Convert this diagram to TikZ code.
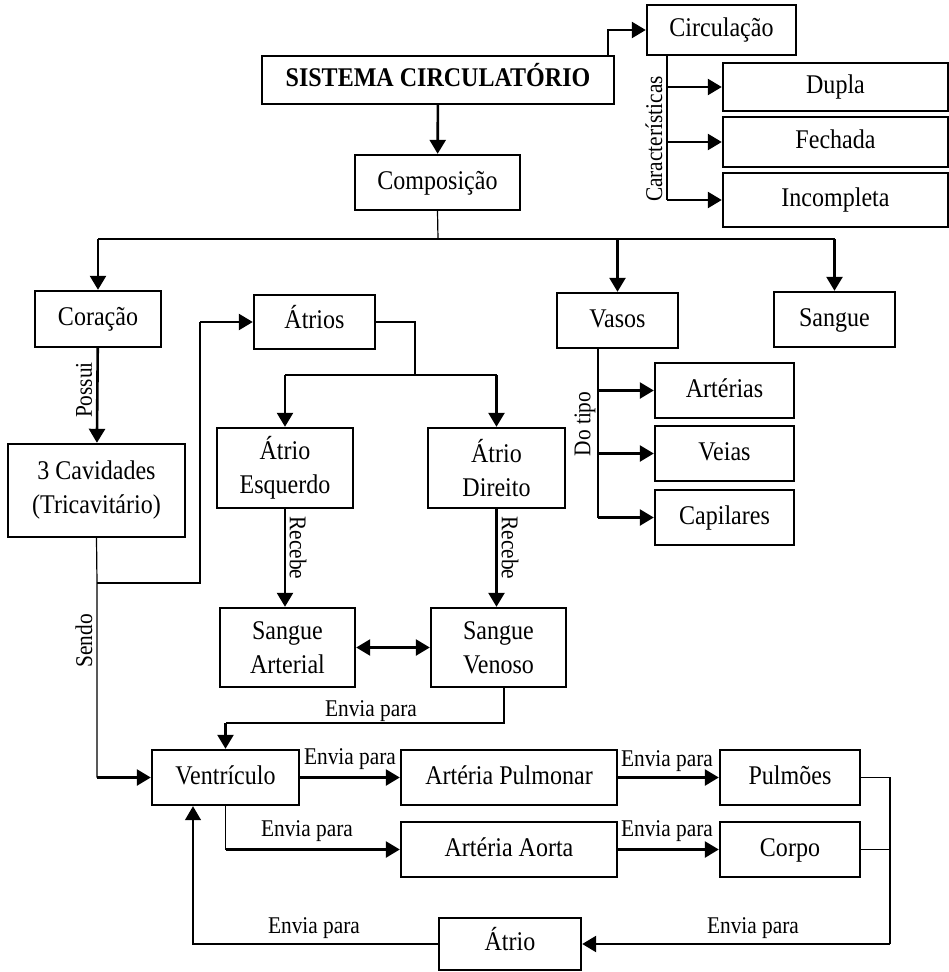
\documentclass[tikz,border=0pt]{standalone}
\usepackage{fontspec}
\setmainfont{Liberation Serif}[FakeStretch=0.89]
\usetikzlibrary{arrows.meta,calc}
\tikzstyle{box}=[rectangle, draw=black, line width=2.4pt, inner sep=2pt, align=center, text height=19pt, text depth=6pt, font=\fontsize{27}{34}\selectfont]
\tikzstyle{box2}=[box, text height=, text depth=]
\tikzstyle{annot}=[inner sep=1pt, font=\fontsize{24}{26}\selectfont]
\tikzstyle{conn}=[line width=1.2pt]
\tikzstyle{arr}=[line width=2.6pt, -{Triangle[length=14pt,width=16pt]}]
\tikzstyle{tarr}=[line width=1.3pt, -{Triangle[length=14pt,width=16pt]}]
\tikzstyle{darr}=[line width=2.6pt, {Triangle[length=14pt,width=16pt]}-{Triangle[length=14pt,width=16pt]}]

\begin{document}
\begin{tikzpicture}[x=1pt,y=-1pt]
	\useasboundingbox (0,0) rectangle (949,972);

	% top part
	\node[box, minimum width=352pt, minimum height=48pt, font=\bfseries\fontsize{27}{34}\selectfont](sistema) at (438,80){SISTEMA CIRCULATÓRIO};
	\node[box, minimum width=149pt, minimum height=50pt](circulacao) at (721.5,30){Circulação};
	\node[box, minimum width=225pt, minimum height=48pt](dupla) at (835.5,87){Dupla};
	\node[box, minimum width=225pt, minimum height=50pt](fechada) at (835.5,142){Fechada};
	\node[box, minimum width=225pt, minimum height=54pt](incompleta) at (835.5,200){Incompleta};
	\node[box, minimum width=165pt, minimum height=55pt](composicao) at (437.5,182.5){Composição};

	% second row
	\node[box, minimum width=126pt, minimum height=56pt](coracao) at (98,319){Coração};
	\node[box, minimum width=121pt, minimum height=54pt](atrios) at (314.5,322){Átrios};
	\node[box, minimum width=121pt, minimum height=55pt](vasos) at (617.5,320.5){Vasos};
	\node[box, minimum width=121pt, minimum height=55pt](sangue) at (834.5,319.5){Sangue};
	\node[box, minimum width=139pt, minimum height=55pt](arterias) at (724.5,390.5){Artérias};
	\node[box, minimum width=139pt, minimum height=55pt](veias) at (724.5,453.5){Veias};
	\node[box, minimum width=139pt, minimum height=55pt](capilares) at (724.5,517.5){Capilares};
	\node[box2, minimum width=177pt, minimum height=93pt](cavidades) at (96.5,490.5){3 Cavidades\\(Tricavitário)};
	\node[box2, minimum width=136pt, minimum height=80pt](esquerdo) at (285,468){Átrio\\Esquerdo};
	\node[box2, minimum width=137pt, minimum height=80pt](direito) at (496.5,468){Átrio\\Direito};
	\node[box2, minimum width=135pt, minimum height=79pt](arterial) at (287.5,647.5){Sangue\\Arterial};
	\node[box2, minimum width=135pt, minimum height=79pt](venoso) at (498.5,647.5){Sangue\\Venoso};

	% bottom part
	\node[box, minimum width=147pt, minimum height=55pt](ventriculo) at (225.5,777.5){Ventrículo};
	\node[box, minimum width=216pt, minimum height=55pt](pulmonar) at (509,777.5){Artéria Pulmonar};
	\node[box, minimum width=140pt, minimum height=55pt](pulmoes) at (790,777.5){Pulmões};
	\node[box, minimum width=216pt, minimum height=55pt](aorta) at (509,849.5){Artéria Aorta};
	\node[box, minimum width=140pt, minimum height=55pt](corpo) at (790,849.5){Corpo};
	\node[box, minimum width=142pt, minimum height=52pt](atrio) at (510,944){Átrio};

	% junctions
	\coordinate (s1) at (608,56);
	\coordinate (car) at (667,55);
	\coordinate (tree) at (438,239);
	\coordinate (fork) at (97,583);
	\coordinate (up) at (200,583);
	\coordinate (split) at (415,375);
	\coordinate (tipo) at (598,348);
	\coordinate (v1) at (504,723);
	\coordinate (r1) at (890,777.5);
	\coordinate (r2) at (890,944);
	\coordinate (l1) at (193,944);

	\draw[arr] (s1) |- (circulacao.west);
	\draw[conn] (car) -- (car |- incompleta.west);
	\foreach \n in {dupla,fechada,incompleta}
		\draw[arr] (car |- \n.west) -- (\n.west);
	\node[annot, rotate=90] (lcar) at (654,139) {Características};

	\draw[arr] (sistema) -- (composicao);
	\draw[conn] (composicao.south) -- (tree);
	\draw[conn] (coracao.north |- tree) -- (sangue.north |- tree);
	\foreach \n in {coracao,vasos,sangue}
		\draw[arr] (\n.north |- tree) -- (\n.north);

	\draw[arr] (coracao) -- (cavidades);
	\node[annot, rotate=90] (lpossui) at (84,390) {Possui};

	\draw[conn] (cavidades.south) -- (fork) -- (fork |- ventriculo.west);
	\draw[arr] (fork |- ventriculo.west) -- (ventriculo.west);
	\node[annot, rotate=90] (lsendo) at (84,641) {Sendo};
	\draw[conn] (fork) -- (up) -- (up |- atrios.west);
	\draw[arr] (up |- atrios.west) -- (atrios.west);

	\draw[conn] (atrios.east) -| (split);
	\draw[conn] (esquerdo.north |- split) -- (direito.north |- split);
	\foreach \n in {esquerdo,direito}
		\draw[arr] (\n.north |- split) -- (\n.north);
	\draw[arr] (esquerdo.south) -- (esquerdo.south |- arterial.north);
	\draw[arr] (direito.south) -- (direito.south |- venoso.north);
	\node[annot, rotate=-90] (lrec1) at (298,548) {Recebe};
	\node[annot, rotate=-90] (lrec2) at (510,548) {Recebe};
	\draw[darr] (arterial) -- (venoso);

	\draw[conn] (tipo) -- (tipo |- capilares.west);
	\foreach \n in {arterias,veias,capilares}
		\draw[arr] (tipo |- \n.west) -- (\n.west);
	\node[annot, rotate=90] (ltipo) at (585,424) {Do tipo};

	\draw[conn] (v1 |- venoso.south) -- (v1) -- (v1 -| ventriculo.north);
	\draw[arr] (v1 -| ventriculo.north) -- (ventriculo.north);
	\node[annot] (le1) at (371,711) {Envia para};

	\draw[arr] (ventriculo) -- (pulmonar);
	\node[annot] (le2) at (350,759) {Envia para};
	\draw[arr] (pulmonar) -- (pulmoes);
	\node[annot] (le3) at (667,761) {Envia para};

	\draw[conn] (ventriculo.south) -- (ventriculo.south |- aorta.west);
	\draw[arr] (ventriculo.south |- aorta.west) -- (aorta.west);
	\node[annot] (le4) at (307,831) {Envia para};
	\draw[arr] (aorta) -- (corpo);
	\node[annot] (le5) at (667,831) {Envia para};

	\draw[conn] (pulmoes.east) -- (r1) -- (r2);
	\draw[conn] (corpo.east) -- (corpo.east -| r1);
	\draw[arr] (r2) -- (atrio.east);
	\node[annot] (le6) at (753,928) {Envia para};
	\draw[tarr] (atrio.west) -- (l1) -- (l1 |- ventriculo.south);
	\node[annot] (le7) at (314,928) {Envia para};

\end{tikzpicture}
\end{document}
